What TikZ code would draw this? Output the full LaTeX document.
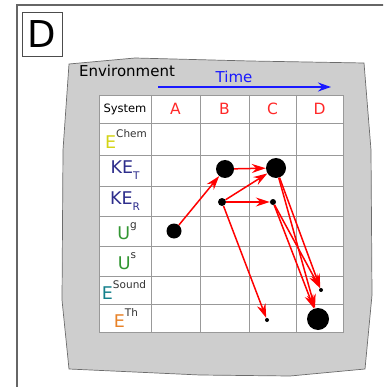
\documentclass[tikz,border=0pt]{standalone}
\usepackage{fontspec}
\setmainfont{DejaVu Sans}
\usetikzlibrary{arrows.meta}

\definecolor{chemyellow}{RGB}{212,212,20}
\definecolor{kenavy}{RGB}{45,45,140}
\definecolor{ugreen}{RGB}{50,150,50}
\definecolor{soundteal}{RGB}{20,128,140}
\definecolor{thorange}{RGB}{232,130,40}
\definecolor{labred}{RGB}{255,40,40}
\definecolor{timeblue}{RGB}{25,25,255}
\definecolor{envgray}{RGB}{206,206,206}
\definecolor{supgray}{RGB}{50,50,50}

\newcommand{\sups}[1]{\raisebox{1.15ex}{\fontsize{10.5}{10.5}\selectfont\color{supgray}#1}}
\newcommand{\subs}[1]{\raisebox{-0.55ex}{\fontsize{10.5}{10.5}\selectfont #1}}

\begin{document}
\begin{tikzpicture}[x=1pt, y=-1pt,
    gridline/.style={gray!80, line width=0.8pt},
    rowlab/.style={inner sep=0pt, font=\fontsize{17.5}{17.5}\selectfont},
    collab/.style={labred, inner sep=0pt, font=\fontsize{15.5}{15.5}\selectfont},
    dot/.style={circle, fill=black, inner sep=0pt, minimum size=#1},
    flow/.style={red, line width=1.5pt, -{Stealth[length=14pt,width=9pt]}}]
    \useasboundingbox (0,0) rectangle (383,387);
    \clip (0,0) rectangle (383,387);

    % outer frame and panel letter
    \draw[gray!80!black, line width=1.5pt] (17,400) -- (17,5) -- (400,5);
    \node[draw=gray!60!black, line width=0.9pt, minimum width=40pt, minimum height=44pt,
      inner sep=0pt, font=\fontsize{37}{37}\selectfont] (panel) at (42,34) {D};

    % environment
    \draw[fill=envgray, draw=gray!85!black, line width=0.7pt]
      (69,64) -- (135,58) -- (250,61) -- (364,63) -- (371,150) -- (372,295)
      -- (365,369) -- (290,376) -- (200,375) -- (69,369) -- (62,300) -- (63,150) -- cycle;
    \node[font=\fontsize{15}{15}\selectfont] (env) at (127,71) {Environment};

    % time
    \coordinate (tstart) at (158,87);
    \coordinate (tend) at (331,87);
    \draw[timeblue, line width=1.8pt, -{Stealth[length=13pt,width=9pt]}] (tstart) -- (tend);
    \node[timeblue, font=\fontsize{15}{15}\selectfont] (time) at (234,77) {Time};

    % table
    \draw[gridline, fill=white] (99,95) rectangle (343,332);
    \foreach \x in {151,200,249,296}
      \draw[gridline] (\x,95) -- (\x,332);
    \foreach \y in {123,155,186,216,246,276,304}
      \draw[gridline] (99,\y) -- (343,\y);

    \node[font=\fontsize{11.5}{11.5}\selectfont] (sys) at (125,109) {System};
    \node[collab] (colA) at (175.5,109) {A};
    \node[collab] (colB) at (224.5,109) {B};
    \node[collab] (colC) at (272.5,109) {C};
    \node[collab] (colD) at (319.5,109) {D};

    \node[rowlab] (chem) at (126,139) {\color{chemyellow}E\sups{Chem}};
    \node[rowlab] (ket) at (125,170) {\color{kenavy}KE\subs{T}};
    \node[rowlab] (ker) at (125,201) {\color{kenavy}KE\subs{R}};
    \node[rowlab] (ug) at (127,231) {\color{ugreen}U\sups{g}};
    \node[rowlab] (us) at (127,261) {\color{ugreen}U\sups{s}};
    \node[rowlab] (snd) at (124,290) {\color{soundteal}E\sups{Sound}};
    \node[rowlab] (th) at (126,318) {\color{thorange}E\sups{Th}};

    % states
    \node[dot=15pt] (aUg) at (174,231) {};
    \node[dot=18pt] (bKEt) at (225,169) {};
    \node[dot=8pt] (bKEr) at (222,202) {};
    \node[dot=20pt] (cKEt) at (276,168) {};
    \node[dot=6pt] (cKEr) at (273,202) {};
    \node[dot=4pt] (cEth) at (267,320) {};
    \node[dot=4pt] (dEsnd) at (321,290) {};
    \node[dot=22pt] (dEth) at (318,319) {};

    % transfers
    \draw[flow] (aUg) -- (bKEt);
    \draw[flow] (bKEt) -- (cKEt);
    \draw[flow] (bKEr) -- (cKEt);
    \draw[flow] (bKEr) -- (cKEr);
    \draw[flow] (bKEr) -- (cEth);
    \draw[flow] (cKEt) -- (dEsnd);
    \draw[flow] (cKEt) -- (dEth);
    \draw[flow] (cKEr) -- (dEsnd);
    \draw[flow] (cKEr) -- (dEth);
  \end{tikzpicture}
\end{document}
